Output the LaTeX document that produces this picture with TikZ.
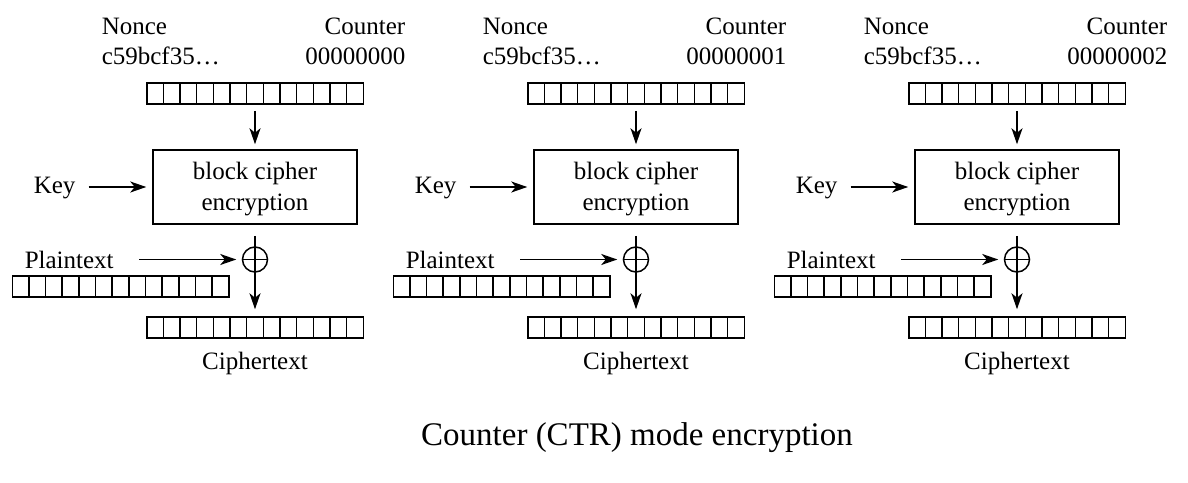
\documentclass[tikz,border=0pt]{standalone}
\usepackage{fontspec}
\setmainfont{Liberation Serif}
\usetikzlibrary{arrows.meta}
\begin{document}
\begin{tikzpicture}[x=1pt,y=-1pt,
  line width=1.5pt,
  lbl/.style={inner sep=0pt, font=\fontsize{25}{31}\selectfont},
  arr/.style={-{Stealth[length=16pt,width=11pt,inset=4.5pt]}},
  reg/.style={draw, inner sep=0pt, minimum width=216.5pt, minimum height=21pt,
    path picture={\foreach \i in {1,...,12}
      \draw[line width=1.5pt] ([xshift=\i*16.654pt]path picture bounding box.south west) --
            ([xshift=\i*16.654pt]path picture bounding box.north west);}},
  cipherbox/.style={draw, inner sep=0pt, minimum width=204pt, minimum height=74pt},
  xorsym/.style={draw, circle, inner sep=0pt, minimum size=25pt}]
\useasboundingbox (0,0) rectangle (1188,482);

\foreach \k/\ctr in {0/00000000,1/00000001,2/00000002}{
  \begin{scope}[xshift=\k*381pt]
    % counter block input
    \node[lbl, anchor=base west] (nonce\k) at (101,34) {Nonce};
    \node[lbl, anchor=base east] (ctrlbl\k) at (406,34) {Counter};
    \node[lbl, anchor=base west] (nval\k) at (101,64.5) {c59bcf35…};
    \node[lbl, anchor=base east] (cval\k) at (406,64.5) {\ctr};
    \node[reg] (inreg\k) at (255,93.5) {};
    % block cipher (the last text line sits on the node's base)
    \node[cipherbox] (enc\k) at (255,187) {};
    \node[lbl, anchor=base, align=center] (enctxt\k) at (255,210) {block cipher\\encryption};
    \node[lbl, anchor=base west] (key\k) at (33,193) {Key};
    % xor with plaintext
    \node[xorsym] (xor\k) at (255,259.5) {};
    \node[lbl, anchor=base west] (ptxt\k) at (24,268) {Plaintext};
    \node[reg] (preg\k) at (120.5,286.5) {};
    % ciphertext output
    \node[reg] (creg\k) at (255,327.5) {};
    \node[lbl, anchor=base] (ctxt\k) at (255,369) {Ciphertext};
    % connectors
    \draw[arr, shorten <=6pt, shorten >=5pt] (inreg\k.south) -- (enc\k.north);
    \draw[arr, shorten <=12.5pt, shorten >=6pt] (key\k.east |- enc\k.west) -- (enc\k.west);
    \draw[arr, shorten <=11pt, shorten >=7pt] (enc\k.south) -- (creg\k.north);
    \draw (xor\k.west) -- (xor\k.east);
    \draw[arr, shorten <=25pt, shorten >=5.5pt] (ptxt\k.east |- xor\k.west) -- (xor\k.west);
  \end{scope}
}
\node[inner sep=0pt, anchor=base, font=\fontsize{33}{40}\selectfont] (title) at (637,445)
  {Counter (CTR) mode encryption};
\end{tikzpicture}
\end{document}
